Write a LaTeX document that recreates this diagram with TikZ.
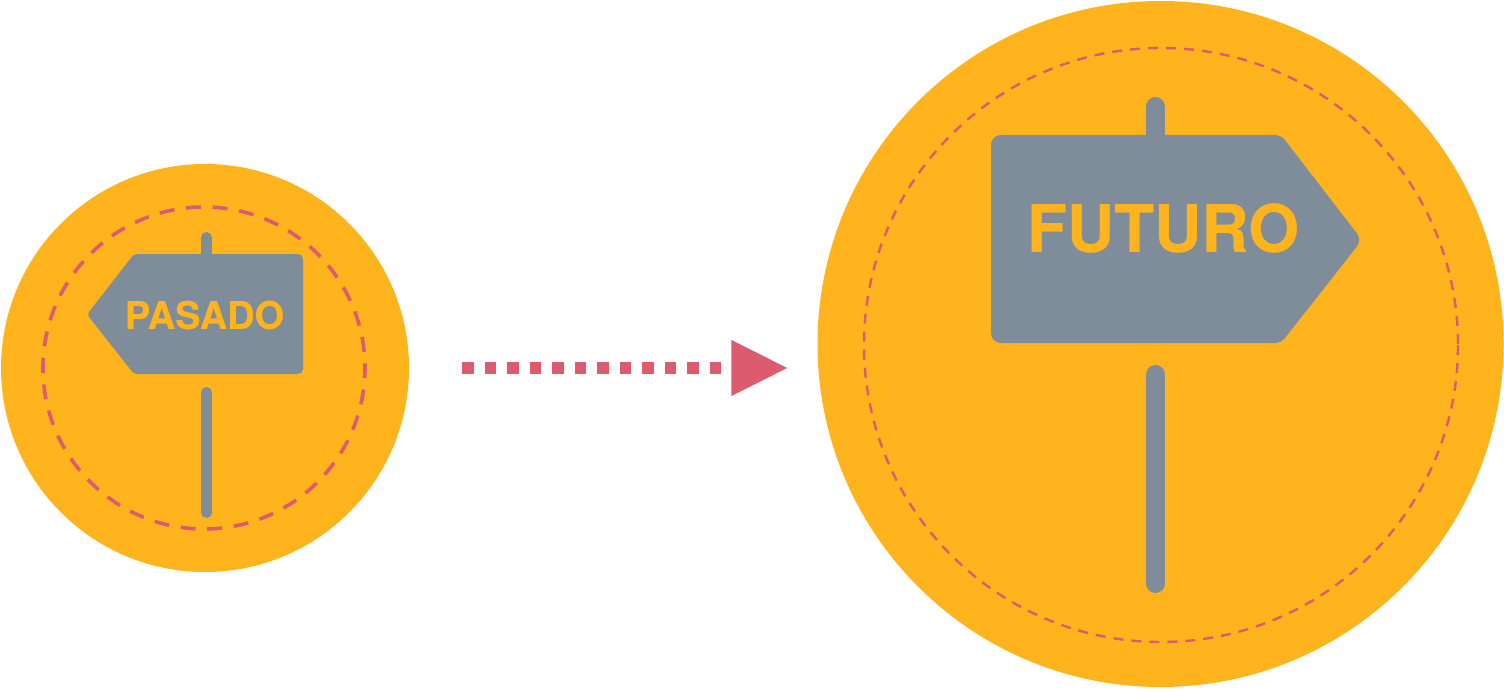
\documentclass[tikz,border=0pt]{standalone}
\usepackage{fontspec}
\setmainfont[BoldFeatures={FakeBold=0.35}]{TeX Gyre Heros}
\usetikzlibrary{arrows.meta}
\definecolor{discO}{RGB}{255,180,30}
\definecolor{signG}{RGB}{127,140,153}
\definecolor{routeR}{RGB}{221,91,110}
\tikzset{
  disc/.style={fill=discO},
  route/.style={routeR},
  signboard/.style={fill=signG},
  pole/.style={signG,line cap=round},
  signtext/.style={discO,font=\bfseries,inner sep=0pt,anchor=center}
}

\begin{document}
\begin{tikzpicture}[x=0.01cm,y=-0.01cm]
  \useasboundingbox (0,0) rectangle (1504,691);
  % small sign, pointing back
  \fill[disc] (205,368) circle[radius=204];
  \draw[route,line width=0.036cm,dash pattern=on 0.15cm off 0.1162cm,dash phase=0.05cm] (204,368) circle[radius=161];
  \draw[pole,line width=0.11cm] (206.5,237.5) -- (206.5,260);
  \draw[pole,line width=0.11cm] (206.5,392.5) -- (206.5,512.5);
  \fill[signboard,rounded corners=1pt] (87,314.5) -- (134,254) [rounded corners=1.4pt] -- (303,254) -- (303,374) [rounded corners=1pt] -- (134,374) -- cycle;
  \node[signtext,font=\bfseries\fontsize{10.8}{12}\selectfont] (pasado) at (204.5,315) {PASADO};
  % large sign, pointing ahead
  \fill[disc] (1160.5,344) circle[radius=343];
  \draw[route,line width=0.024cm,dash pattern=on 0.1cm off 0.08cm] (1161,345) circle[radius=297];
  \draw[pole,line width=0.19cm] (1155.5,106.5) -- (1155.5,140);
  \draw[pole,line width=0.19cm] (1155.5,374.5) -- (1155.5,583.5);
  \fill[signboard,rounded corners=2.8pt] (991,135) [rounded corners=1.7pt] -- (1281,135) [rounded corners=2.3pt] -- (1362,240) [rounded corners=1.7pt] -- (1281,343) [rounded corners=2.8pt] -- (991,343) -- cycle;
  \node[signtext,font=\bfseries\fontsize{18.6}{22}\selectfont] (futuro) at (1163,228) {FUTURO};
  % dotted arrow between the two
  \coordinate (arrowtail) at (462,368);
  \coordinate (arrowtip) at (788,368);
  \draw[route,line width=0.115cm,dash pattern=on 0.115cm off 0.11cm,-{Triangle[length=0.565cm,width=0.525cm,sep=0pt]}] (arrowtail) -- (arrowtip);
\end{tikzpicture}
\end{document}
